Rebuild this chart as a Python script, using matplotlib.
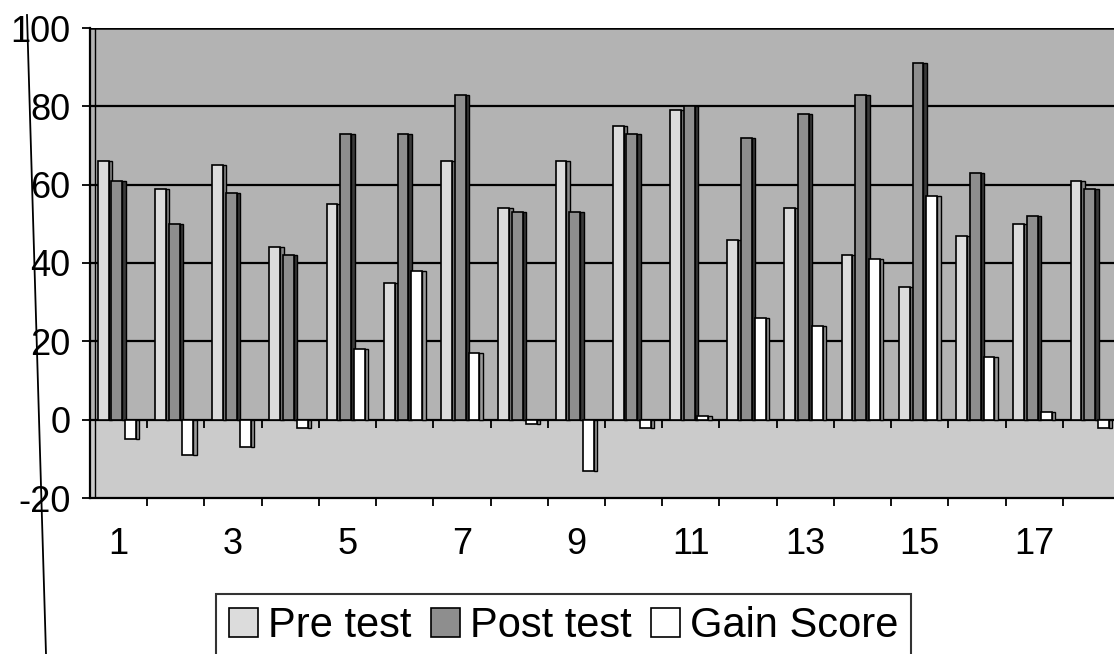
import numpy as np
import matplotlib
matplotlib.use("Agg")
import matplotlib.pyplot as plt
from matplotlib.lines import Line2D

plt.rcParams['font.family'] = ['Liberation Sans', 'DejaVu Sans']

# values
students = list(range(1, 19))
pre_test = [66, 59, 65, 44, 55, 35, 66, 54, 66, 75, 79, 46, 54, 42, 34, 47, 50, 61]
post_test = [61, 50, 58, 42, 73, 73, 83, 53, 53, 73, 80, 72, 78, 83, 91, 63, 52, 59]
gain_score = [-5, -9, -7, -2, 18, 38, 17, -1, -13, -2, 1, 26, 24, 41, 57, 16, 2, -2]
tick_labels = ['1', '3', '5', '7', '9', '11', '13', '15', '17']

series = [
    ('Pre test', pre_test, '#dcdcdc', '#8a8a8a'),
    ('Post test', post_test, '#8e8e8e', '#3a3a3a'),
    ('Gain Score', gain_score, '#ffffff', '#9a9a9a'),
]

fig = plt.figure(figsize=(11.14, 6.54), dpi=100)
fig.patch.set_facecolor('white')
ax = fig.add_axes([90 / 1114, 156 / 654, 1030 / 1114, 470 / 654])
ax.set_facecolor('#b3b3b3')
ax.axhspan(-20, 0, color='#cbcbcb', zorder=0)

x = np.array(students, dtype=float)
w = 0.25
offsets = [-0.24, 0.0, 0.24]
handles = []
for (name, vals, face, side), off in zip(series, offsets):
    vals = np.array(vals, dtype=float)
    # darker strip on the right side for the 3-D look
    ax.bar(x + off + w * 0.38, vals, width=w * 0.24, color=side,
           edgecolor='black', linewidth=1.0, zorder=3)
    b = ax.bar(x + off - w * 0.12, vals, width=w * 0.76, color=face,
               edgecolor='black', linewidth=1.2, zorder=4, label=name)
    handles.append(b)

# grid lines
for g in [20, 40, 60, 80]:
    ax.axhline(g, color='black', lw=1.6, zorder=2)

ax.set_xlim(0.5, 18.5)
ax.set_ylim(-20, 100)
ax.set_yticks([-20, 0, 20, 40, 60, 80, 100])
ax.set_yticklabels(['-20', '0', '20', '40', '60', '80', '100'])

# category boundaries carry the tick marks, labels sit on the odd students
ax.set_xticks(np.arange(1.5, 18.5, 1.0))
ax.set_xticks([1, 3, 5, 7, 9, 11, 13, 15, 17], minor=True)
ax.set_xticklabels(tick_labels, minor=True)
ax.set_xticklabels([])
ax.tick_params(axis='x', which='major', length=6, width=1.3, direction='out')
ax.tick_params(axis='x', which='minor', length=0, pad=21, labelsize=26)
ax.tick_params(axis='y', length=6, width=1.3, labelsize=26, pad=8)

for s in ['top', 'right']:
    ax.spines[s].set_visible(False)
ax.spines['left'].set_linewidth(1.6)
ax.spines['bottom'].set_linewidth(1.6)
ax.axhline(100, color='black', lw=1.8, zorder=2)
ax.axvline(0.58, color='black', lw=1.0, zorder=2)

# category axis crossing at zero
sec = ax.secondary_xaxis(20 / 120)
sec.set_xticks(np.arange(1.5, 18.5, 1.0))
sec.set_xticklabels([])
sec.tick_params(length=6, width=1.3, direction='out')
sec.spines['bottom'].set_linewidth(1.6)

# outer chart border on the left (slightly tilted in the scan)
fig.add_artist(Line2D([27 / 1114, 46 / 1114], [1 - 15 / 654, 0],
                      transform=fig.transFigure, color='black', lw=1.3))

leg = fig.legend(handles=handles, labels=[s[0] for s in series],
                 loc='upper center', bbox_to_anchor=(0.506, 0.124), ncol=3,
                 fontsize=30, frameon=True, fancybox=False, edgecolor='black',
                 handlelength=0.7, handleheight=0.7, handletextpad=0.25,
                 columnspacing=0.45, borderpad=0.3)
leg.get_frame().set_linewidth(1.5)

fig.savefig('out.png', dpi=100)
